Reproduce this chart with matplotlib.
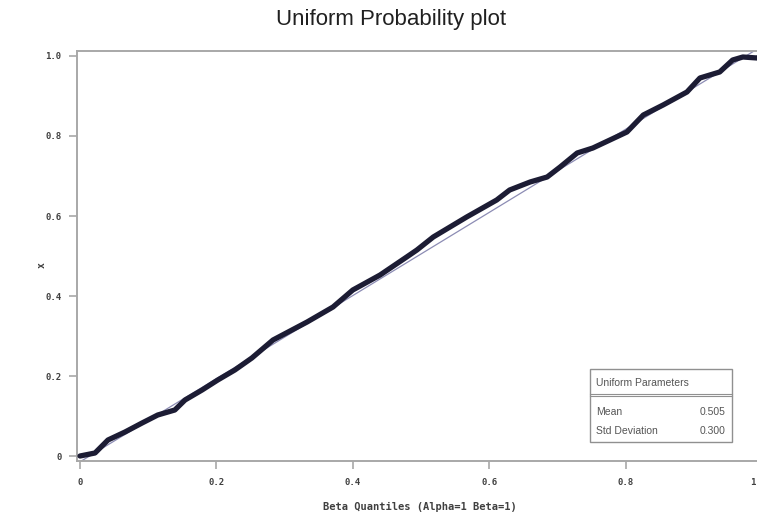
import matplotlib
matplotlib.use("Agg")
import matplotlib.pyplot as plt
from matplotlib.patches import Rectangle
from matplotlib.lines import Line2D
from matplotlib.transforms import ScaledTranslation

# Beta(1,1) quantiles vs sorted data
quantiles = [0.0, 0.022, 0.041, 0.066, 0.091, 0.114, 0.139, 0.154, 0.179, 0.202,
             0.227, 0.252, 0.283, 0.333, 0.371, 0.40, 0.44, 0.479, 0.494, 0.518,
             0.567, 0.611, 0.63, 0.66, 0.685, 0.704, 0.729, 0.752, 0.802, 0.826,
             0.855, 0.89, 0.909, 0.938, 0.957, 0.972, 0.993, 1.0]
values = [0.0, 0.0075, 0.04, 0.06, 0.0825, 0.1025, 0.115, 0.14, 0.165, 0.19,
          0.215, 0.245, 0.29, 0.335, 0.3725, 0.415, 0.4525, 0.4975, 0.515, 0.5475,
          0.5975, 0.64, 0.665, 0.685, 0.6975, 0.7225, 0.7575, 0.77, 0.81, 0.8525,
          0.8775, 0.91, 0.945, 0.96, 0.99, 0.9975, 0.995, 1.0]

mean = 0.505
std = 0.300
xticks = [0, 0.2, 0.4, 0.6, 0.8, 1.0]
xtick_labels = ["0", "0.2", "0.4", "0.6", "0.8", "1"]
yticks = [0, 0.2, 0.4, 0.6, 0.8, 1.0]
ytick_labels = ["0", "0.2", "0.4", "0.6", "0.8", "1.0"]

W, H = 757, 518
fig = plt.figure(figsize=(W / 100, H / 100), dpi=100)
ax = fig.add_axes([77 / W, 1 - 461 / H, (766 - 77) / W, (461 - 51) / H])

# reference line from the fitted uniform parameters
lo = mean - std * 3 ** 0.5
hi = mean + std * 3 ** 0.5
ax.plot([0, 1], [lo, hi], color="#8c8cb4", lw=0.9, zorder=2)
ax.plot(quantiles, values, color="#1c1c34", lw=3.8, solid_capstyle="round",
        solid_joinstyle="round", zorder=3)

ax.set_xlim(-0.0044, 1.0059)
ax.set_ylim(-0.0125, 1.0125)

gray = "#a8a8a8"
for s in ax.spines.values():
    s.set_color(gray)
    s.set_linewidth(1.4)

tick_font = dict(family="DejaVu Sans Mono", size=6.5, weight="bold", color="#404040")
ax.set_xticks(xticks)
ax.set_xticklabels(xtick_labels, **tick_font)
ax.set_yticks(yticks)
ax.set_yticklabels(ytick_labels, **tick_font)
ax.tick_params(direction="out", length=6, width=1.2, color=gray, pad=6)
ax.tick_params(axis="y", pad=5)

# last x label sits at the right edge of the picture: nudge it inside
last = ax.xaxis.get_major_ticks()[-1].label1
last.set_transform(last.get_transform() + ScaledTranslation(-9 / 100, 0, fig.dpi_scale_trans))

fig.text(391 / W, 1 - 19 / H, "Uniform Probability plot",
         family=["Liberation Sans", "DejaVu Sans"], size=16,
         color="#202020", ha="center", va="center")
fig.text(420 / W, 1 - 507 / H, "Beta Quantiles (Alpha=1 Beta=1)",
         family="DejaVu Sans Mono", size=7.5, weight="bold", color="#404040",
         ha="center", va="center")
fig.text(42 / W, 1 - 265 / H, "x", family="DejaVu Sans Mono", size=7,
         weight="bold", color="#404040", ha="center", va="center", rotation=90)

# parameter inset box
def fx(px):
    return px / W

def fy(py):
    return 1 - py / H

box_col = "#909090"
fig.add_artist(Rectangle((fx(590), fy(442)), fx(732) - fx(590), fy(369) - fy(442),
                         transform=fig.transFigure, fill=True, facecolor="white",
                         edgecolor=box_col, lw=1.0, zorder=5))
for py in (393.5, 396):
    fig.add_artist(Line2D([fx(590), fx(732)], [fy(py), fy(py)],
                          transform=fig.transFigure, color=box_col, lw=0.8, zorder=6))
small = dict(family=["Liberation Sans", "DejaVu Sans"], size=7.5, color="#555555",
             va="center", zorder=7)
fig.text(fx(596), fy(383), "Uniform Parameters", ha="left", **small)
fig.text(fx(596), fy(412), "Mean", ha="left", **small)
fig.text(fx(726), fy(412), f"{mean:.3f}", ha="right", **small)
fig.text(fx(596), fy(431), "Std Deviation", ha="left", **small)
fig.text(fx(726), fy(431), f"{std:.3f}", ha="right", **small)

fig.savefig("out.png", dpi=100)
